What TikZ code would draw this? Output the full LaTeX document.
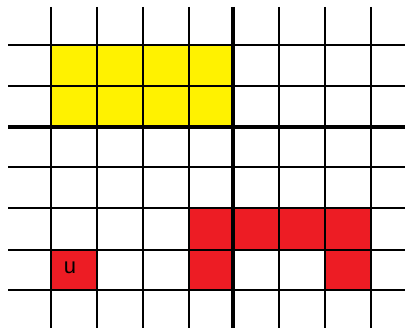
\documentclass[tikz,border=0pt]{standalone}
\usepackage{fontspec}
\setsansfont{Liberation Sans}
\definecolor{gridInk}{HTML}{000000}
\definecolor{gridYellow}{HTML}{FFF200}
\definecolor{gridRed}{HTML}{ED1C24}

\begin{document}
\begin{tikzpicture}[x=1pt,y=-1pt,
  gridline/.style={draw=gridInk,line width=2.8pt},
  gridthick/.style={draw=gridInk,line width=3.8pt},
  yellowcell/.style={fill=gridYellow},
  redcell/.style={fill=gridRed},
  celllabel/.style={font=\sffamily\fontsize{22}{24}\selectfont,inner sep=0pt}]
  \fill[white] (0,0) rectangle (405,328);
  \path[use as bounding box] (0,0) rectangle (405,328);

  % coloured cells first, the grid goes on top
  \fill[yellowcell] (51,45) rectangle (233,127);
  \fill[redcell] (189,208) rectangle (371,250);
  \fill[redcell] (189,250) rectangle (233,290);
  \fill[redcell] (325,250) rectangle (371,290);
  \fill[redcell] (51,250) rectangle (97,290);

  \foreach \y in {45,86,167,208,250,290}
    {\draw[gridline] (8,\y)--(405,\y);}
  \draw[gridthick] (8,127)--(405,127);
  \foreach \x in {51,97,143,189,279,325,371}
    {\draw[gridline] (\x,7)--(\x,328);}
  \draw[gridthick] (233,7)--(233,328);

  \node[celllabel] (u) at (70,268) {u};
\end{tikzpicture}
\end{document}
